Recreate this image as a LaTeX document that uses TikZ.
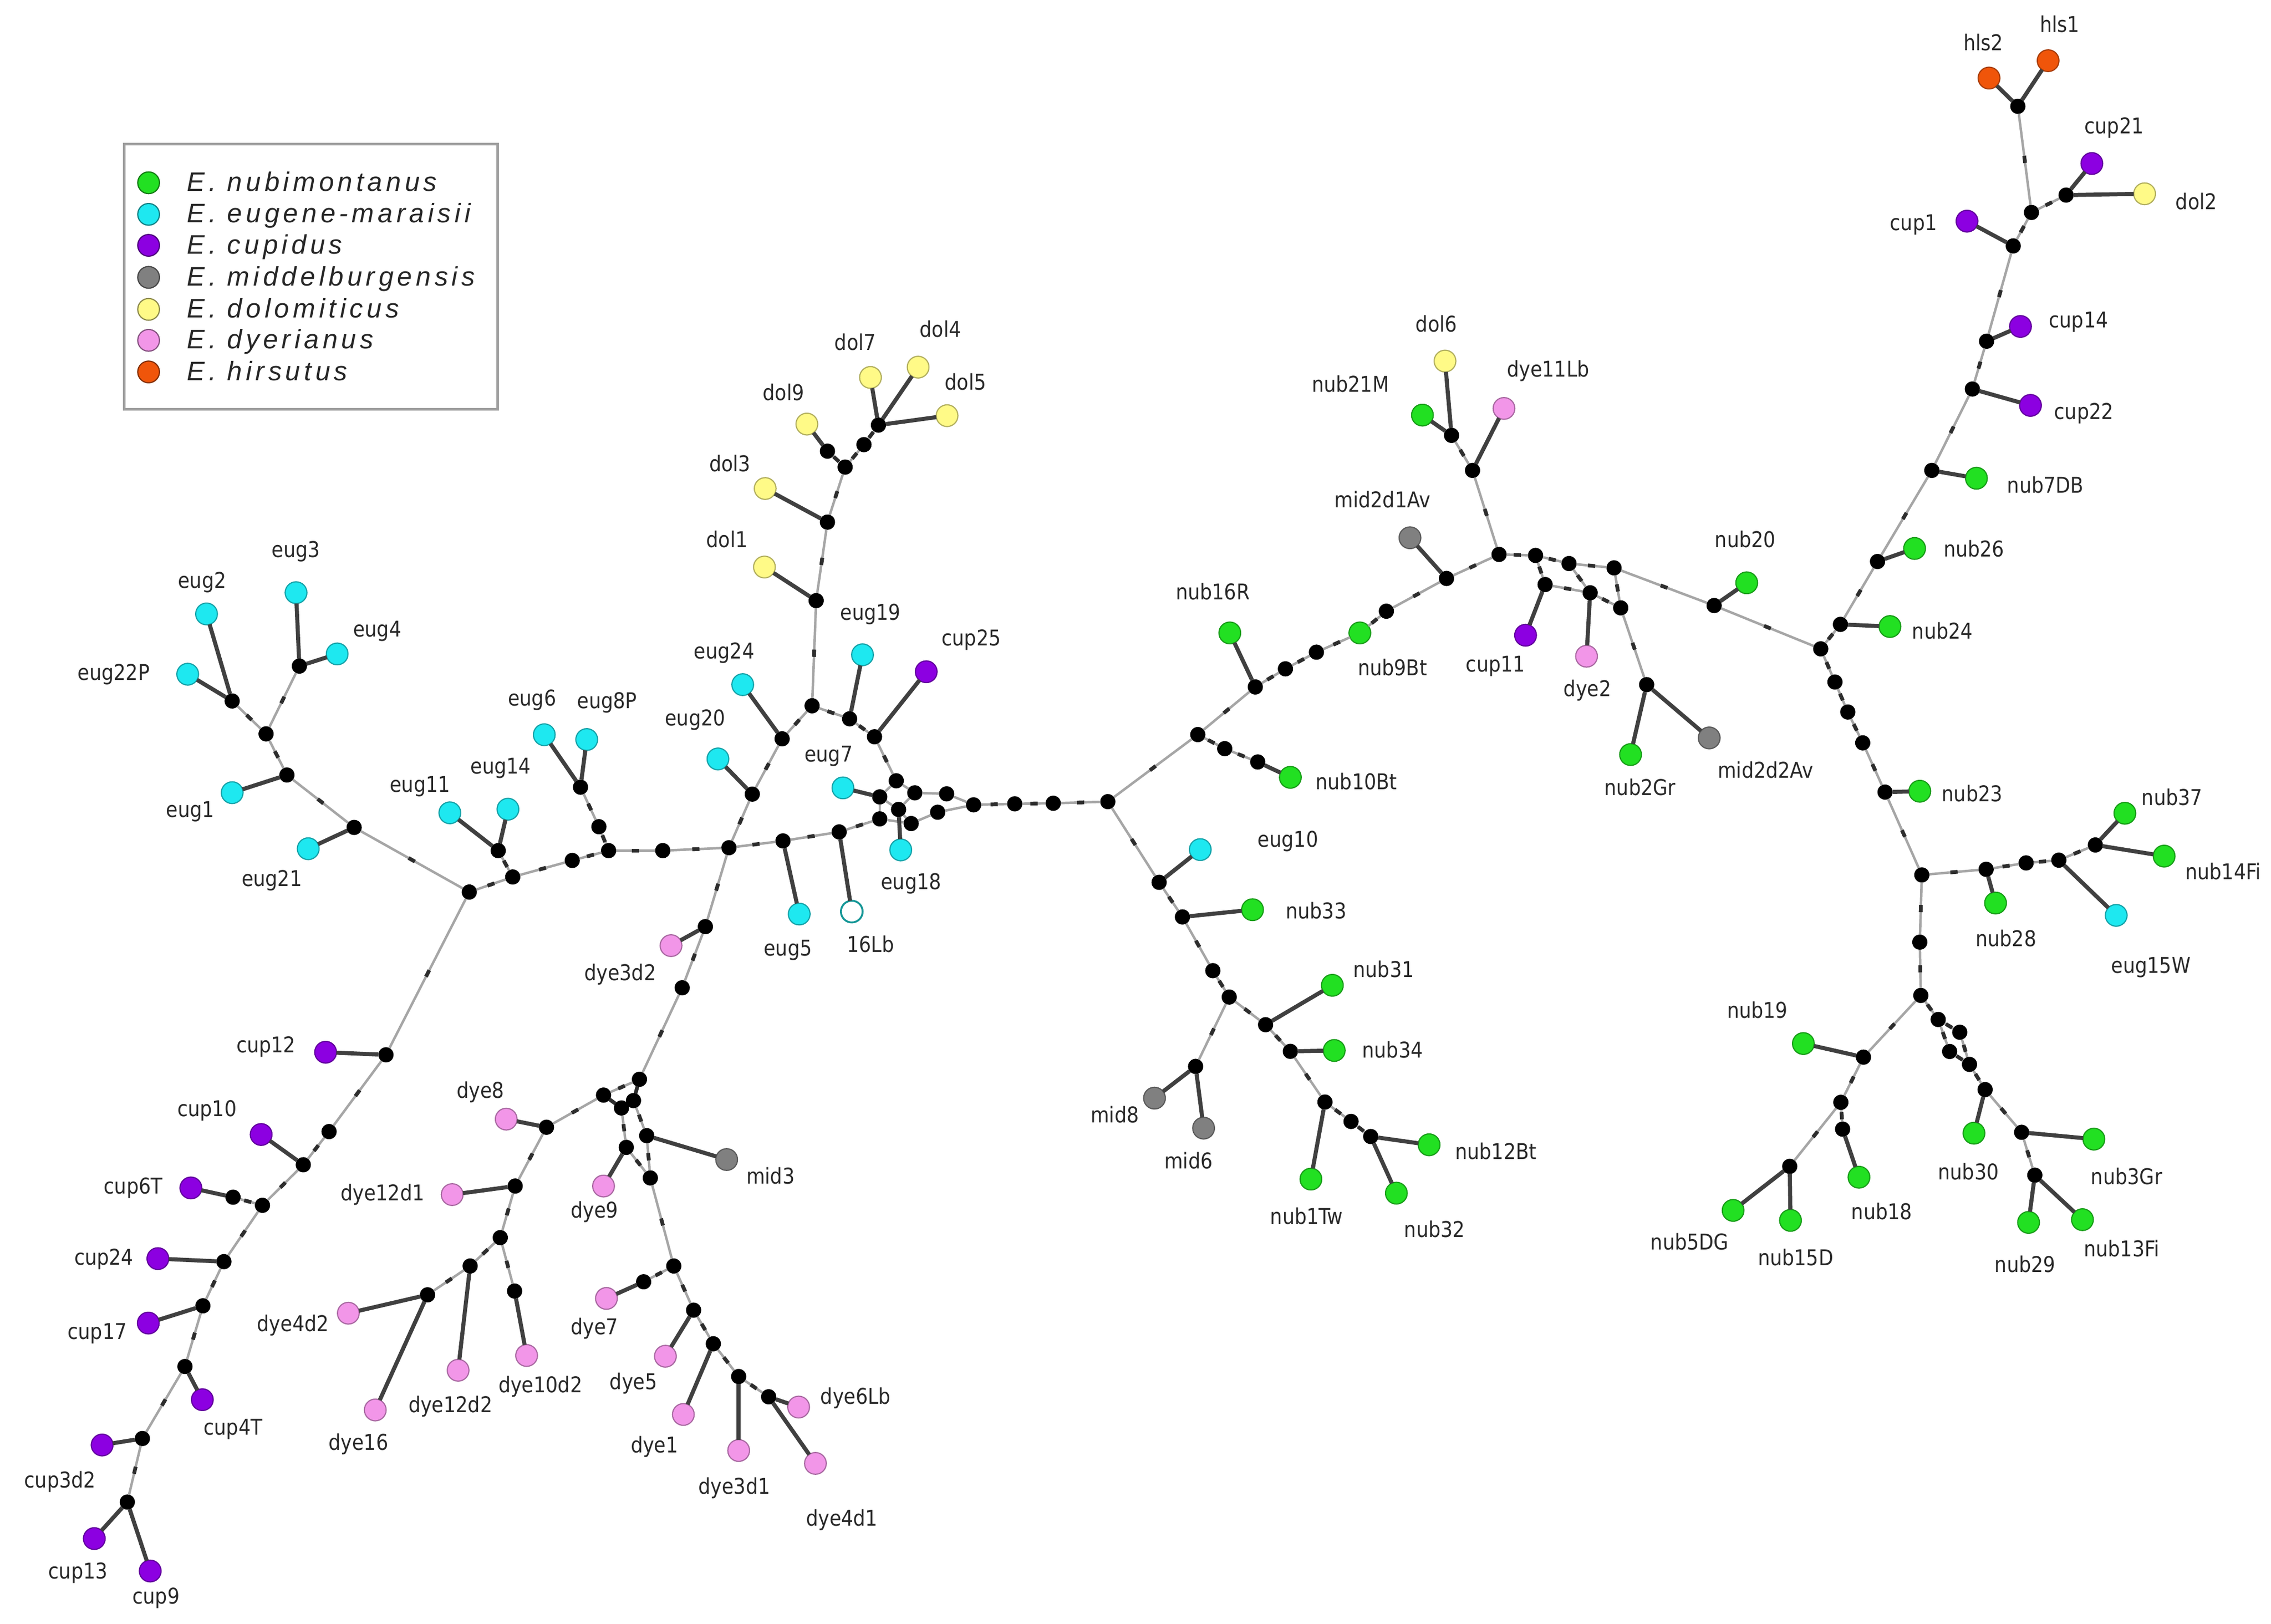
\documentclass[tikz,border=0pt]{standalone}
\usepackage{fontspec}
\setmainfont[FakeStretch=0.88]{DejaVu Sans}
\newfontfamily\legfont[LetterSpace=14]{Liberation Sans}
\usetikzlibrary{decorations.markings}
\definecolor{cgr}{RGB}{34,224,34}
\definecolor{ccy}{RGB}{30,232,240}
\definecolor{cpu}{RGB}{140,0,225}
\definecolor{cgy}{RGB}{128,128,128}
\definecolor{cye}{RGB}{255,250,135}
\definecolor{cpk}{RGB}{242,150,232}
\definecolor{cor}{RGB}{240,85,10}
\definecolor{labc}{RGB}{40,40,40}
\definecolor{teal16}{RGB}{20,150,150}
\newcommand\hapnode[3]{\node[hap,fill=#1,draw=#1!70!black] (#2) at (#3) {};}
\newcommand\mednode[2]{\node[med] (#1) at (#2) {};}
\newcommand\labnode[3]{\node[lab] (l#1) at (#2) {#3};}
\begin{document}
\begin{tikzpicture}[x=1pt,y=-1pt,
  hap/.style={circle,minimum size=15pt,inner sep=0pt,outer sep=0pt,line width=0.8pt},
  med/.style={circle,fill=black,minimum size=10.5pt,inner sep=0pt,outer sep=0pt},
  lab/.style={text=labc,font=\fontsize{15}{15}\selectfont,inner sep=0pt},
  lnp/.style={draw=gray!70,line width=1.7pt},
  ln/.style={lnp,postaction={decorate},decoration={markings,mark=at position 0.5 with {\draw[gray!35!black,line width=2.6pt] (-2.5pt,0)--(2.5pt,0);}}},
  stub/.style={draw=gray!50!black,line width=2.8pt},
  legtext/.style={anchor=base west,inner sep=0pt,text=black!85,font=\legfont\itshape\fontsize{18.5}{18.5}\selectfont}
]
\fill[white] (0,0) rectangle (1568,1121);
\useasboundingbox (0,0) rectangle (1568,1121);

% ---------- legend ----------
\node[draw=gray!75,line width=1.8pt,fill=white,minimum width=257.6pt,minimum height=183.3pt,inner sep=0pt,anchor=north west] (legbox) at (85,98.5) {};
\foreach \c/\y/\t [count=\i] in {cgr/126.2/{E. nubimontanus},ccy/148/{E. eugene-maraisii},cpu/169.4/{E. cupidus},cgy/191.5/{E. middelburgensis},cye/213.6/{E. dolomiticus},cpk/235/{E. dyerianus},cor/256.8/{E. hirsutus}}{
  \node[hap,fill=\c,draw=\c!55!black] (leg\i) at (102.6,\y) {};
  \node[legtext] (legt\i) at (129,\y+5.8) {\t};
}

% ---------- median vectors ----------
\mednode{m34}{206.7,459.9}
\mednode{ma}{160.3,484}
\mednode{mb}{183.7,506.7}
\mednode{mc}{198.1,535.1}
\mednode{md}{244.5,571.3}
\mednode{me}{324,615.9}
\mednode{mf}{354,605.5}
\mednode{mg}{344,587.3}
\mednode{mh}{395.1,594.1}
\mednode{mi}{420.2,587.3}
\mednode{mj}{413.5,570.8}
\mednode{mk}{400.8,543.5}
\mednode{ml}{457.6,587.3}
\mednode{mm}{503.3,585.3}
\mednode{mnA}{519.4,548.3}
\mednode{mnB}{540,510.1}
\mednode{mr}{560.7,487.3}
\mednode{ms}{586.6,496.3}
\mednode{mt}{603.8,508.7}
\mednode{mv}{540.6,580.6}
\mednode{mu}{579.4,574.4}
\mednode{mo}{487,639.8}
\mednode{mp}{471,682}
\mednode{mq}{266.5,728.3}
\mednode{mw}{227.2,781.3}
\mednode{mx}{209.4,804.2}
\mednode{mz}{181.2,832.2}
\mednode{my}{160.9,826.6}
\mednode{maa}{154.6,871.1}
\mednode{mab}{140.1,901.6}
\mednode{mac}{127.7,943.5}
\mednode{mad}{98.3,993.2}
\mednode{mae}{87.9,1037.1}
% central cluster
\mednode{c1}{618.8,539.1}
\mednode{c2}{607.4,550.2}
\mednode{c3}{631.6,547.4}
\mednode{c4}{653.6,548.1}
\mednode{c5}{620.4,558.9}
\mednode{c6}{607.4,565.4}
\mednode{c7}{629.1,568.6}
\mednode{c8}{647.4,560.8}
\mednode{c9}{672.2,555.7}
\mednode{c10}{700.6,555}
\mednode{c11}{727.2,554.6}
\mednode{c12}{764.9,553.5}
% dol
\mednode{da1}{606.5,293.5}
\mednode{da2}{596.5,307}
\mednode{da3}{571.3,311.5}
\mednode{da4}{583.5,322.5}
\mednode{da5}{571.3,360.5}
\mednode{da6}{563.5,414.7}
% dye
\mednode{vaf}{441.5,745.2}
\mednode{vag}{416.7,756.1}
\mednode{vah}{437.4,759.9}
\mednode{vai}{429.1,765}
\mednode{vaj}{446.5,784.1}
\mednode{vak}{432.4,792.2}
\mednode{val}{449,813.3}
\mednode{vam}{377.3,778.3}
\mednode{van}{355.7,818.9}
\mednode{vao}{345.4,854.5}
\mednode{vap}{324.6,874.1}
\mednode{vaq}{355.3,891.4}
\mednode{var}{295.2,894}
\mednode{vas}{465.2,874.1}
\mednode{vat}{444.4,885}
\mednode{vau}{478.9,904.6}
\mednode{vav}{492.5,927.8}
\mednode{vaw}{510,950.4}
\mednode{vax}{530.7,964.4}
% centre right
\mednode{vba}{1002.2,300.6}
\mednode{vbb}{1016.7,324.8}
\mednode{vbc}{1035,382.8}
\mednode{vbd}{998.7,399.4}
\mednode{vbe}{957.2,422}
\mednode{vbf}{908.9,450.3}
\mednode{vbg}{887.5,461.8}
\mednode{vbh}{866.7,474.3}
\mednode{vbi}{827,507.2}
\mednode{vbj}{845.6,516.9}
\mednode{vbk}{868.4,526.1}
\mednode{vbl}{1060.2,383.5}
\mednode{vbm}{1083.3,389.1}
\mednode{vbn}{1114.4,392.1}
\mednode{vbo}{1066.8,403.6}
\mednode{vbp}{1097.9,409.3}
\mednode{vbq}{1119,419.7}
\mednode{vbr}{1136.9,472.7}
\mednode{vbs}{1183.5,418.1}
\mednode{vbt}{1257.1,448}
% bottom centre
\mednode{vea}{800.3,609.2}
\mednode{veb}{816.4,633.1}
\mednode{vec}{837.4,670.2}
\mednode{ved}{848.7,688.4}
\mednode{vee}{873.8,707.5}
\mednode{vef}{890.9,725.9}
\mednode{veg}{914.8,760.9}
\mednode{veh}{932.8,774.3}
\mednode{vei}{946.4,784.7}
\mednode{vej}{825.5,736.3}
% right
\mednode{vca}{1393.2,73.4}
\mednode{vcb}{1426.5,134.7}
\mednode{vcc}{1402.6,146.7}
\mednode{vcd}{1390,169.8}
\mednode{vce}{1371.6,235.6}
\mednode{vcf}{1361.8,268.6}
\mednode{vcg}{1333.8,324.8}
\mednode{vch}{1296.3,387.7}
\mednode{vci}{1270.7,431.1}
\mednode{vcj}{1266.9,470.9}
\mednode{vck}{1275.8,491.6}
\mednode{vcl}{1286.1,512.9}
\mednode{vcm}{1301.5,546.9}
\mednode{vcn}{1326.9,604.1}
\mednode{vco}{1371.3,600.2}
\mednode{vcp}{1398.9,595.8}
\mednode{vcq}{1421.5,593.9}
\mednode{vcr}{1446.7,583.4}
\mednode{vcs}{1325.5,650.5}
\mednode{vct}{1326.2,687.3}
\mednode{vcu}{1286.6,729.9}
\mednode{vcv}{1271,761.1}
\mednode{vcw}{1272.2,779.6}
\mednode{vcx}{1235.7,805.3}
\mednode{vcy}{1338.2,703.9}
\mednode{vcz}{1353.1,712.7}
\mednode{vda}{1346.1,726}
\mednode{vdb}{1359.8,734.9}
\mednode{vdc}{1370.6,752.3}
\mednode{vdd}{1395.8,781.8}
\mednode{vde}{1404.9,811.4}

% ---------- haplotypes ----------
\hapnode{ccy}{eug3}{204.4,409.2}
\hapnode{ccy}{eug2}{142.6,423.9}
\hapnode{ccy}{eug4}{232.8,451.5}
\hapnode{ccy}{eug22P}{129.6,465.5}
\hapnode{ccy}{eug1}{160.3,547.3}
\hapnode{ccy}{eug21}{212.8,586}
\hapnode{ccy}{eug11}{310.6,561.2}
\hapnode{ccy}{eug14}{350.7,558.7}
\hapnode{ccy}{eug6}{375.8,507.3}
\hapnode{ccy}{eug8P}{405.1,510.6}
\hapnode{ccy}{eug20}{495.7,524}
\hapnode{ccy}{eug24}{512.8,472.7}
\hapnode{ccy}{eug19}{595.5,452.1}
\hapnode{cpu}{cup25}{639.5,463.8}
\hapnode{ccy}{eug7}{582,544}
\hapnode{ccy}{eug18}{621.9,586.8}
\hapnode{ccy}{eug5}{551.8,631.1}
\node[hap,fill=white,draw=teal16,line width=1.3pt] (lb16) at (588.1,629.4) {};
\hapnode{cpk}{dye3d2}{463.3,652.9}
\hapnode{cpu}{cup12}{224.8,726.5}
\hapnode{cpu}{cup10}{180.3,783.3}
\hapnode{cpu}{cup6T}{131.8,820.2}
\hapnode{cpu}{cup24}{109,869}
\hapnode{cpu}{cup17}{102.4,913.5}
\hapnode{cpu}{cup4T}{139.7,966.4}
\hapnode{cpu}{cup3d2}{70.5,997.7}
\hapnode{cpu}{cup13}{65.1,1062.3}
\hapnode{cpu}{cup9}{103.7,1084.7}
\hapnode{cpk}{dye8}{349.5,772.7}
\hapnode{cpk}{dye12d1}{312.2,824.8}
\hapnode{cpk}{dye4d2}{240.5,906.7}
\hapnode{cpk}{dye16}{259.1,973.5}
\hapnode{cpk}{dye12d2}{316.3,946.1}
\hapnode{cpk}{dye10d2}{363.6,935.9}
\hapnode{cpk}{dye9}{416.7,818.9}
\hapnode{cgy}{mid3}{501.7,800.6}
\hapnode{cpk}{dye7}{418.7,896.5}
\hapnode{cpk}{dye5}{459.4,936.4}
\hapnode{cpk}{dye1}{471.8,976.6}
\hapnode{cpk}{dye3d1}{510,1001.5}
\hapnode{cpk}{dye6Lb}{551.4,971.5}
\hapnode{cpk}{dye4d1}{563,1010.4}
\hapnode{cye}{dol1}{527.8,391.5}
\hapnode{cye}{dol3}{528.3,337.3}
\hapnode{cye}{dol9}{557.1,292.8}
\hapnode{cye}{dol7}{601,260.6}
\hapnode{cye}{dol4}{633.9,253.5}
\hapnode{cye}{dol5}{653.9,287}
\hapnode{cye}{dol6}{997.7,249.3}
\hapnode{cgr}{nub21M}{982.1,286.6}
\hapnode{cpk}{dye11Lb}{1038.4,282}
\hapnode{cgy}{mid2d1Av}{973.5,371.3}
\hapnode{cgr}{nub9Bt}{938.9,437}
\hapnode{cgr}{nub16R}{849.1,437}
\hapnode{cgr}{nub10Bt}{890.9,536.7}
\hapnode{cpu}{cup11}{1053.3,438.6}
\hapnode{cpk}{dye2}{1095.4,453.1}
\hapnode{cgr}{nub2Gr}{1125.8,521}
\hapnode{cgy}{mid2d2Av}{1180.1,509.5}
\hapnode{cgr}{nub20}{1206,402.4}
\hapnode{ccy}{eug10}{828.7,586.6}
\hapnode{cgr}{nub33}{864.8,628.1}
\hapnode{cgr}{nub31}{919.9,680.3}
\hapnode{cgr}{nub34}{921.2,725.3}
\hapnode{cgr}{nub1Tw}{905.1,814.1}
\hapnode{cgr}{nub12Bt}{986.7,790.4}
\hapnode{cgr}{nub32}{964.1,823.8}
\hapnode{cgy}{mid8}{797.1,758.2}
\hapnode{cgy}{mid6}{831,778.9}
\hapnode{cor}{hls2}{1373.3,53.9}
\hapnode{cor}{hls1}{1414.1,41.9}
\hapnode{cpu}{cup21}{1444.3,112.9}
\hapnode{cye}{dol2}{1480.7,133.8}
\hapnode{cpu}{cup1}{1358.1,152.7}
\hapnode{cpu}{cup14}{1395,225.4}
\hapnode{cpu}{cup22}{1401.9,279.9}
\hapnode{cgr}{nub7DB}{1364.6,330.2}
\hapnode{cgr}{nub26}{1321.9,378.7}
\hapnode{cgr}{nub24}{1304.9,432.6}
\hapnode{cgr}{nub23}{1325.5,546.3}
\hapnode{cgr}{nub28}{1377.8,623.5}
\hapnode{cgr}{nub37}{1467.1,561.5}
\hapnode{cgr}{nub14Fi}{1494.2,591.1}
\hapnode{ccy}{eug15W}{1461.1,632}
\hapnode{cgr}{nub19}{1245.1,720.5}
\hapnode{cgr}{nub18}{1283.5,812.8}
\hapnode{cgr}{nub15D}{1236.2,842.6}
\hapnode{cgr}{nub5DG}{1196.6,835.7}
\hapnode{cgr}{nub30}{1362.9,782.4}
\hapnode{cgr}{nub3Gr}{1445.7,786.5}
\hapnode{cgr}{nub29}{1400.6,844}
\hapnode{cgr}{nub13Fi}{1437.8,842.1}

% ---------- network edges ----------
\foreach \a/\b in {me/md,md/mc,mc/mb,mb/ma,mb/m34,me/mf,mf/mg,mf/mh,mh/mi,mi/mj,mj/mk,mi/ml,ml/mm,mm/mnA,mnA/mnB,mnB/mr,mr/ms,ms/mt,mt/c1,
  mr/da6,da6/da5,da5/da4,da4/da3,da4/da2,da2/da1,
  mm/mv,mv/mu,mu/c6,mm/mo,mo/mp,mp/vaf,
  me/mq,mq/mw,mw/mx,mx/mz,mz/my,mz/maa,maa/mab,mab/mac,mac/mad,mad/mae,
  vaf/vag,vaf/vah,vag/vai,vai/vak,vah/vaj,vak/val,vaj/val,vag/vam,vam/van,van/vao,vao/vap,vap/var,vao/vaq,val/vas,vas/vat,vas/vau,vau/vav,vav/vaw,vaw/vax,
  c12/vbi,vbi/vbh,vbh/vbg,vbg/vbf,vbf/nub9Bt,nub9Bt/vbe,vbe/vbd,vbd/vbc,vbc/vbb,vbb/vba,vbc/vbl,vbl/vbm,vbm/vbn,vbn/vbs,vbs/vbt,vbl/vbo,vbo/vbp,vbm/vbp,vbp/vbq,vbn/vbq,vbq/vbr,vbi/vbj,vbj/vbk,
  c12/vea,vea/veb,veb/vec,vec/ved,ved/vee,vee/vef,vef/veg,veg/veh,veh/vei,ved/vej,
  vbt/vci,vci/vch,vch/vcg,vcg/vcf,vcf/vce,vce/vcd,vcd/vcc,vcc/vca,vcc/vcb,
  vbt/vcj,vcj/vck,vck/vcl,vcl/vcm,vcm/vcn,vcn/vco,vco/vcp,vcp/vcq,vcq/vcr,
  vcn/vcs,vcs/vct,vct/vcu,vcu/vcv,vcv/vcx,vcv/vcw,vct/vcy,vcy/vcz,vcy/vda,vcz/vdb,vda/vdb,vdb/vdc,vdc/vdd,vdd/vde,
  c9/c10,c10/c11,c11/c12}
  \draw[ln] (\a) -- (\b);
\foreach \a/\b in {c1/c3,c1/c2,c2/c6,c2/c5,c5/c3,c5/c7,c6/c7,c3/c4,c4/c9,c7/c8,c8/c9}
  \draw[lnp] (\a) -- (\b);
% haplotype stubs
\foreach \a/\b in {ma/eug2,ma/eug22P,m34/eug3,m34/eug4,mc/eug1,md/eug21,mg/eug11,mg/eug14,mk/eug6,mk/eug8P,mnA/eug20,mnB/eug24,ms/eug19,mt/cup25,c2/eug7,c5/eug18,mv/eug5,mu/lb16,mo/dye3d2,
  mq/cup12,mx/cup10,my/cup6T,maa/cup24,mab/cup17,mac/cup4T,mad/cup3d2,mae/cup13,mae/cup9,
  da6/dol1,da5/dol3,da3/dol9,da1/dol7,da1/dol4,da1/dol5,
  vam/dye8,van/dye12d1,var/dye4d2,var/dye16,vap/dye12d2,vaq/dye10d2,vak/dye9,vaj/mid3,vat/dye7,vau/dye5,vav/dye1,vaw/dye3d1,vax/dye6Lb,vax/dye4d1,
  vba/nub21M,vba/dol6,vbb/dye11Lb,vbd/mid2d1Av,vbh/nub16R,vbk/nub10Bt,vbo/cup11,vbp/dye2,vbr/nub2Gr,vbr/mid2d2Av,vbs/nub20,
  vea/eug10,veb/nub33,vee/nub31,vef/nub34,veg/nub1Tw,vei/nub12Bt,vei/nub32,vej/mid8,vej/mid6,
  vca/hls2,vca/hls1,vcd/cup1,vcb/cup21,vcb/dol2,vce/cup14,vcf/cup22,vcg/nub7DB,vch/nub26,vci/nub24,
  vcm/nub23,vco/nub28,vcr/nub37,vcr/nub14Fi,vcq/eug15W,vcu/nub19,vcw/nub18,vcx/nub15D,vcx/nub5DG,vdc/nub30,vdd/nub3Gr,vde/nub29,vde/nub13Fi}
  \draw[stub] (\a) -- (\b);

% ---------- labels ----------
\labnode{eug3}{204.4,380.9}{eug3}
\labnode{eug2}{139.6,402.1}{eug2}
\labnode{eug4}{260.5,435.8}{eug4}
\labnode{eug22P}{78.5,465.5}{eug22P}
\labnode{eug1}{131.3,560.4}{eug1}
\labnode{eug21}{187.7,608}{eug21}
\labnode{eug11}{290,543}{eug11}
\labnode{eug14}{345.7,530.3}{eug14}
\labnode{eug6}{367.4,483.4}{eug6}
\labnode{eug8P}{419.2,485.2}{eug8P}
\labnode{eug20}{480,497.1}{eug20}
\labnode{eug24}{500,451}{eug24}
\labnode{eug19}{601,424}{eug19}
\labnode{cup25}{670.6,441.7}{cup25}
\labnode{eug7}{572.1,522}{eug7}
\labnode{eug18}{629.1,610}{eug18}
\labnode{eug5}{544,656}{eug5}
\labnode{lb16}{601,652}{16Lb}
\labnode{dye3d2}{428.2,672.7}{dye3d2}
\labnode{cup12}{183.7,722.8}{cup12}
\labnode{dol1}{502,372.5}{dol1}
\labnode{dol3}{504,320}{dol3}
\labnode{dol9}{541,270.9}{dol9}
\labnode{dol7}{590.6,236}{dol7}
\labnode{dol4}{649.3,227}{dol4}
\labnode{dol5}{666.7,263.8}{dol5}
\labnode{cup10}{143,766.8}{cup10}
\labnode{cup6T}{92,820.2}{cup6T}
\labnode{cup24}{71.7,869.3}{cup24}
\labnode{cup17}{67.2,920.7}{cup17}
\labnode{cup4T}{160.9,986.8}{cup4T}
\labnode{cup3d2}{41.5,1022.9}{cup3d2}
\labnode{cup13}{53.9,1086}{cup13}
\labnode{cup9}{107.8,1103.3}{cup9}
\labnode{dye8}{331.7,754.1}{dye8}
\labnode{mid3}{532,811.8}{mid3}
\labnode{dye12d1}{264.1,824.8}{dye12d1}
\labnode{dye9}{410.5,836.7}{dye9}
\labnode{dye4d2}{202.3,915.1}{dye4d2}
\labnode{dye7}{410.5,917.4}{dye7}
\labnode{dye10d2}{373.1,957.5}{dye10d2}
\labnode{dye5}{437.4,955}{dye5}
\labnode{dye12d2}{311,971}{dye12d2}
\labnode{dye16}{247.5,997}{dye16}
\labnode{dye1}{451.9,999}{dye1}
\labnode{dye6Lb}{590.8,965.2}{dye6Lb}
\labnode{dye3d1}{507,1027.5}{dye3d1}
\labnode{dye4d1}{581.3,1049.6}{dye4d1}
\labnode{dol6}{991.8,223.5}{dol6}
\labnode{nub21M}{932.4,264.9}{nub21M}
\labnode{dye11Lb}{1068.9,256.2}{dye11Lb}
\labnode{mid2d1Av}{954.5,344.8}{mid2d1Av}
\labnode{nub16R}{837.4,408.6}{nub16R}
\labnode{nub9Bt}{961.4,460.7}{nub9Bt}
\labnode{cup11}{1032.6,460}{cup11}
\labnode{dye2}{1096.1,476.8}{dye2}
\labnode{nub20}{1205,372.5}{nub20}
\labnode{mid2d2Av}{1219.1,531.4}{mid2d2Av}
\labnode{nub2Gr}{1132.4,543.6}{nub2Gr}
\labnode{nub10Bt}{936.5,539.5}{nub10Bt}
\labnode{eug10}{889.3,580.9}{eug10}
\labnode{nub33}{908.7,628.8}{nub33}
\labnode{nub31}{955.4,669.1}{nub31}
\labnode{nub34}{961.5,724.8}{nub34}
\labnode{nub12Bt}{1032.8,795}{nub12Bt}
\labnode{mid8}{769.7,769.7}{mid8}
\labnode{mid6}{820.6,801.3}{mid6}
\labnode{nub1Tw}{902.2,839.5}{nub1Tw}
\labnode{nub32}{990.5,848.5}{nub32}
\labnode{hls2}{1369.4,29.3}{hls2}
\labnode{hls1}{1422.1,16.5}{hls1}
\labnode{cup21}{1459.7,88.3}{cup21}
\labnode{dol2}{1516.5,139.2}{dol2}
\labnode{cup1}{1321.2,155.1}{cup1}
\labnode{cup14}{1435.1,222.5}{cup14}
\labnode{cup22}{1438.8,285.3}{cup22}
\labnode{nub7DB}{1412.3,334.7}{nub7DB}
\labnode{nub26}{1362.9,378.7}{nub26}
\labnode{nub24}{1341.2,435.6}{nub24}
\labnode{nub23}{1361.7,547.9}{nub23}
\labnode{nub37}{1499.7,550.2}{nub37}
\labnode{nub14Fi}{1535,601.6}{nub14Fi}
\labnode{nub28}{1385,647.8}{nub28}
\labnode{eug15W}{1485.1,668}{eug15W}
\labnode{nub19}{1213.4,697.5}{nub19}
\labnode{nub30}{1359.1,808.9}{nub30}
\labnode{nub3Gr}{1468.3,812.2}{nub3Gr}
\labnode{nub18}{1299.3,836.3}{nub18}
\labnode{nub15D}{1239.8,868.1}{nub15D}
\labnode{nub29}{1398.2,873}{nub29}
\labnode{nub13Fi}{1464.9,862}{nub13Fi}
\labnode{nub5DG}{1166.6,857.2}{nub5DG}
\end{tikzpicture}
\end{document}
